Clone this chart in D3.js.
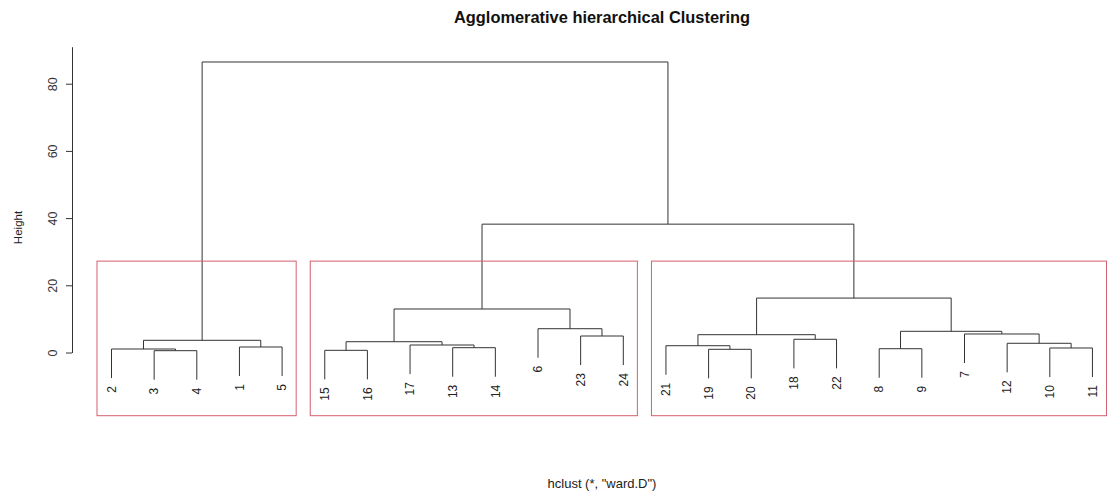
<!DOCTYPE html>
<html>
<head>
<meta charset="utf-8">
<script src="https://cdn.jsdelivr.net/npm/d3@7"></script>
<style>
  html, body { margin: 0; padding: 0; background: #fff; }
  svg { display: block; font-family: "Liberation Sans", Arial, sans-serif; }
</style>
</head>
<body>
<svg id="chart" width="1107" height="492"></svg>
<script>
// ---- data (R-style hclust result) ----
const leafOrder = [2, 3, 4, 1, 5, 15, 16, 17, 13, 14, 6, 23, 24, 21, 19, 20, 18, 22, 8, 9, 7, 12, 10, 11];
// merge matrix: negative = leaf id, positive = earlier merge (1-based)
const mergeLeft  = [-3, -15, -19, -2, -8, -10, -13, -1, -21, -17, -12,  2,  4, -18, -23,  9, -7,  5, -6, 12, 16, 20, 13];
const mergeRight = [-4, -16, -20,  1, -9, -11, -14, -5,   3,   7,   6, 10,  8, -22, -24, 14, 11, 17, 15, 19, 18, 21, 22];
const mergeHeight = [0.54, 0.65, 0.95, 1.04, 1.13, 1.34, 1.43, 1.64, 2.02, 2.23, 2.74, 3.21, 3.63, 3.93, 4.91,
                     5.30, 5.51, 6.31, 7.08, 12.95, 16.2, 38.2, 86.46];
const yTicks = [0, 20, 40, 60, 80];
const kClusters = 3;
const titleText = "Agglomerative hierarchical Clustering";
const xLabel = 'hclust (*, "ward.D")';
const yLabel = "Height";

// ---- layout ----
const svg = d3.select("#chart");
const x = d3.scaleLinear().domain([1, 24]).range([111.5, 111.5 + 23 * 42.65]);
const y = d3.scaleLinear().domain([0, 86.46]).range([352.5, 352.5 - 86.46 * 3.36]);
const plotBottom = 415.7;
const lineColor = "#333";
const rectColor = "#d45f6c";

const maxH = d3.max(mergeHeight);
const hang = 0.1 * maxH;
const leafPos = new Map(leafOrder.map((id, i) => [id, i + 1]));

// compute node x / height
const nodeX = [], nodeH = [];
function childInfo(c, parentH) {
  if (c < 0) return { x: leafPos.get(-c), h: parentH - hang, leaf: -c };
  return { x: nodeX[c - 1], h: nodeH[c - 1] };
}
const leafEnds = [];
mergeHeight.forEach((h, i) => {
  const a = childInfo(mergeLeft[i], h), b = childInfo(mergeRight[i], h);
  nodeX[i] = (a.x + b.x) / 2;
  nodeH[i] = h;
  [a, b].forEach(c => { if (c.leaf) leafEnds.push(c); });
  svg.append("path")
    .attr("d", `M${x(a.x)},${y(a.h)}V${y(h)}H${x(b.x)}V${y(b.h)}`)
    .attr("fill", "none")
    .attr("stroke", lineColor)
    .attr("stroke-width", 1);
});

// leaf labels
svg.append("g").selectAll("text").data(leafEnds).join("text")
  .attr("transform", d => `translate(${x(d.x)},${y(d.h) + 8}) rotate(-90)`)
  .attr("text-anchor", "end")
  .attr("dy", "0.35em")
  .attr("font-size", 12)
  .attr("fill", "#222")
  .text(d => d.leaf);

// cluster rectangles (rect.hclust, k = 3)
function leavesOf(c) {
  if (c < 0) return [leafPos.get(-c)];
  return leavesOf(mergeLeft[c - 1]).concat(leavesOf(mergeRight[c - 1]));
}
const n = mergeHeight.length;
let clusters = [n];
while (clusters.length < kClusters) {
  const top = d3.greatest(clusters, c => mergeHeight[c - 1]);
  clusters = clusters.filter(c => c !== top).concat([mergeLeft[top - 1], mergeRight[top - 1]]);
}
const sortedH = mergeHeight.slice().sort((p, q) => q - p);
const rectTop = (sortedH[kClusters - 2] + sortedH[kClusters - 1]) / 2;
clusters.forEach(c => {
  const ls = leavesOf(c);
  const lo = d3.min(ls), hi = d3.max(ls);
  svg.append("rect")
    .attr("x", x(lo - 0.34))
    .attr("y", y(rectTop))
    .attr("width", x(hi + 0.33) - x(lo - 0.34))
    .attr("height", plotBottom - y(rectTop))
    .attr("fill", "none")
    .attr("stroke", rectColor)
    .attr("stroke-width", 1);
});

// y axis
const yAxisScale = y.copy().domain([0, 91]).range([y(0), y(91)]);
const axisG = svg.append("g")
  .attr("transform", "translate(72,0)")
  .call(d3.axisLeft(yAxisScale).tickValues(yTicks).tickSize(6).tickSizeOuter(0).tickPadding(0));
axisG.select(".domain").attr("stroke", lineColor);
axisG.selectAll(".tick line").attr("stroke", lineColor);
axisG.selectAll(".tick text")
  .attr("transform", null)
  .attr("x", null).attr("dy", null)
  .attr("transform", "translate(-19,0) rotate(-90)")
  .attr("text-anchor", "middle")
  .attr("dy", "0.35em")
  .attr("font-size", 12.5)
  .attr("font-family", "Liberation Sans, Arial, sans-serif")
  .attr("fill", "#333");

// title and labels
svg.append("text")
  .attr("x", 602).attr("y", 23)
  .attr("text-anchor", "middle")
  .attr("font-size", 16.4)
  .attr("font-weight", "bold")
  .attr("fill", "#111")
  .text(titleText);

svg.append("text")
  .attr("x", 602).attr("y", 488)
  .attr("text-anchor", "middle")
  .attr("font-size", 13)
  .attr("fill", "#222")
  .text(xLabel);

svg.append("text")
  .attr("transform", "translate(17.5,227.5) rotate(-90)")
  .attr("text-anchor", "middle")
  .attr("dy", "0.35em")
  .attr("font-size", 11.5)
  .attr("fill", "#222")
  .text(yLabel);
</script>
</body>
</html>
